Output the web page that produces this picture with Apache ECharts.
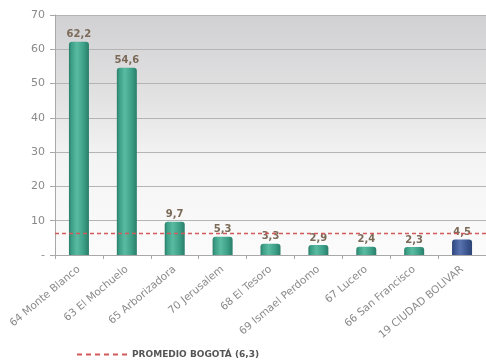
<!DOCTYPE html>
<html>
<head>
<meta charset="utf-8">
<script src="https://cdn.jsdelivr.net/npm/echarts@6/dist/echarts.min.js"></script>
<style>
  html, body { margin: 0; padding: 0; background: #ffffff; }
  #chart { width: 486px; height: 360px; }
</style>
</head>
<body>
<div id="chart"></div>
<script>
// Localidades (UPZ) y su valor; la última barra es el total de la localidad
const categories = [
  '64 Monte Blanco', '63 El Mochuelo', '65 Arborizadora', '70 Jerusalem',
  '68 El Tesoro', '69 Ismael Perdomo', '67 Lucero', '66 San Francisco',
  '19 CIUDAD BOLIVAR'
];
const values = [62.2, 54.6, 9.7, 5.3, 3.3, 2.9, 2.4, 2.3, 4.5];
const promedioBogota = 6.3;
const promedioLabel = 'PROMEDIO BOGOTÁ (6,3)';
const yTicks = [0, 10, 20, 30, 40, 50, 60, 70];

const FONT = 'DejaVu Sans';
const RED = '#d25a5a';

function cylinder(dark, mid, light) {
  return new echarts.graphic.LinearGradient(0, 0, 1, 0, [
    { offset: 0, color: dark },
    { offset: 0.12, color: mid },
    { offset: 0.4, color: light },
    { offset: 0.75, color: mid },
    { offset: 1, color: dark }
  ]);
}
const tealFill = cylinder('#2a7d69', '#3b9e86', '#5abba1');
const blueFill = cylinder('#2c4475', '#3b5590', '#5873ad');

const fmt = v => v.toFixed(1).replace('.', ',');

const chart = echarts.init(document.getElementById('chart'), null, { renderer: 'canvas' });

chart.setOption({
  animation: false,
  textStyle: { fontFamily: FONT },
  grid: {
    left: 55, right: -5, top: 15, bottom: 105,
    show: true,
    borderWidth: 0,
    backgroundColor: new echarts.graphic.LinearGradient(0, 0, 0, 1, [
      { offset: 0, color: '#d1d1d3' },
      { offset: 0.35, color: '#e2e2e3' },
      { offset: 0.6, color: '#f4f4f4' },
      { offset: 1, color: '#fbfbfb' }
    ])
  },
  legend: {
    left: 72, top: 345,
    itemWidth: 50, itemHeight: 2, itemGap: 4,
    textStyle: { fontFamily: FONT, fontSize: 9, fontWeight: 'bold', color: '#555555' },
    data: [{
      name: promedioLabel,
      icon: 'path://M0,0h5v2h-5z M9,0h5v2h-5z M18,0h5v2h-5z M27,0h5v2h-5z M36,0h5v2h-5z M45,0h5v2h-5z',
      itemStyle: { color: RED, borderWidth: 0 }
    }]
  },
  xAxis: {
    type: 'category',
    data: categories,
    axisLine: { lineStyle: { color: '#a8a8a8' } },
    axisTick: { show: true, length: 4, lineStyle: { color: '#a8a8a8' } },
    axisLabel: { rotate: 40, fontSize: 10.5, color: '#8a8a8a', margin: 13, fontFamily: FONT }
  },
  yAxis: {
    type: 'value',
    min: yTicks[0], max: yTicks[yTicks.length - 1], interval: 10,
    axisLine: { show: true, lineStyle: { color: '#a8a8a8' } },
    axisTick: { show: true, length: 5, lineStyle: { color: '#a8a8a8' } },
    axisLabel: {
      fontSize: 11, color: '#8a8a8a', margin: 10, fontFamily: FONT,
      formatter: v => (v === 0 ? '-' : String(v))
    },
    splitLine: { show: true, lineStyle: { color: '#b4b4b4', width: 1 } }
  },
  series: [
    {
      type: 'bar',
      barWidth: 20,
      data: values.map((v, i) => ({
        value: v,
        itemStyle: {
          color: i === values.length - 1 ? blueFill : tealFill,
          borderRadius: [3, 3, 0, 0]
        }
      })),
      label: {
        show: true, position: 'top', distance: 2,
        fontSize: 10, fontWeight: 'bold', color: '#7b6a58', fontFamily: FONT,
        formatter: p => fmt(p.value)
      }
    },
    {
      type: 'line',
      name: promedioLabel,
      color: RED,
      data: [],
      symbol: 'none',
      lineStyle: { color: RED, type: 'dashed' },
      markLine: {
        silent: true,
        symbol: 'none',
        label: { show: false },
        lineStyle: { color: RED, type: [4, 3], width: 1.3, opacity: 1 },
        data: [{ yAxis: promedioBogota }]
      }
    }
  ]
});
</script>
</body>
</html>
